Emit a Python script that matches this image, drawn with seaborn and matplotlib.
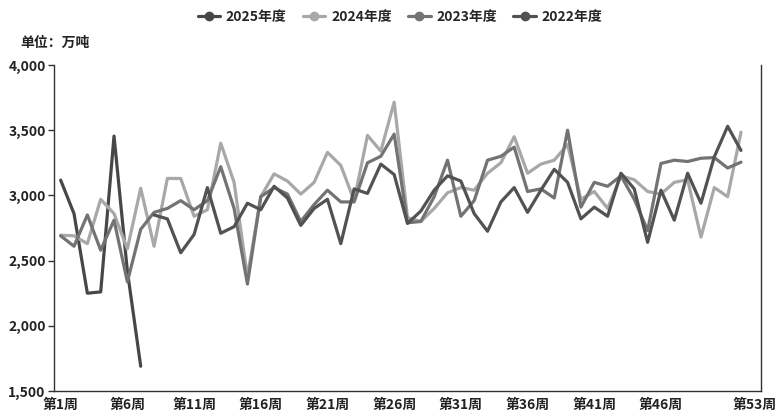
import matplotlib
matplotlib.use("Agg")
import matplotlib.pyplot as plt
import pandas as pd
import seaborn as sns
from matplotlib.lines import Line2D
from matplotlib.ticker import FuncFormatter

# ---- data ----
weeks = [f"第{i}周" for i in range(1, 54)]
series_names = ["2025年度", "2024年度", "2023年度", "2022年度"]
series_start = [1, 1, 1, 8]  # first week with data

y2025 = [3117, 2860, 2250, 2260, 3455, 2420, 1690]

y2024 = [2695, 2690, 2630, 2970, 2860, 2590, 3055, 2610, 3130, 3130,
         2840, 2890, 3400, 3100, 2375, 2990, 3165, 3110, 3010, 3100,
         3330, 3230, 2960, 3460, 3340, 3715, 2830, 2800, 2900, 3020,
         3060, 3040, 3170, 3250, 3450, 3170, 3240, 3270, 3390, 2970,
         3030, 2900, 3150, 3120, 3030, 3010, 3100, 3120, 2680, 3060,
         2990, 3485]

y2023 = [2690, 2610, 2850, 2580, 2810, 2337, 2740, 2870, 2900, 2960,
         2890, 2960, 3220, 2900, 2320, 2990, 3060, 3010, 2800, 2930,
         3040, 2950, 2950, 3250, 3300, 3470, 2790, 2800, 2990, 3270,
         2840, 2960, 3270, 3300, 3370, 3030, 3050, 2980, 3500, 2910,
         3100, 3070, 3150, 2970, 2730, 3245, 3270, 3260, 3285, 3290,
         3210, 3255]

y2022 = [2850, 2820, 2560, 2700, 3060, 2710, 2760, 2940, 2890, 3070,
         2980, 2770, 2900, 2970, 2630, 3050, 3015, 3240, 3160, 2785,
         2880, 3040, 3150, 3110, 2860, 2725, 2950, 3060, 2870, 3040,
         3200, 3100, 2820, 2910, 2840, 3170, 3050, 2640, 3040, 2810,
         3170, 2940, 3296, 3530, 3345]

colors = {"2025年度": "#474747", "2024年度": "#a8a8a8",
          "2023年度": "#737373", "2022年度": "#525252"}

rows = []
for name, vals, start in zip(series_names, [y2025, y2024, y2023, y2022], series_start):
    for i, v in enumerate(vals):
        rows.append({"week": start - 1 + i, "value": v, "series": name})
df = pd.DataFrame(rows)

# ---- style ----
sns.set_theme(style="white")
plt.rcParams["font.family"] = ["Noto Sans CJK SC", "DejaVu Sans"]
plt.rcParams["font.weight"] = "bold"

fig = plt.figure(figsize=(7.83, 4.16), dpi=100)
ax = fig.add_axes([54 / 783, 25 / 416, 707 / 783, 326 / 416])

sns.lineplot(data=df, x="week", y="value", hue="series", hue_order=series_names,
             palette=colors, estimator=None, linewidth=2.3, ax=ax, legend=False)
for ln in ax.lines:
    ln.set_solid_joinstyle("round")
    ln.set_solid_capstyle("round")

# x axis
ax.set_xlim(-0.5, 52.5)
label_idx = list(range(0, 50, 5)) + [52]
ax.set_xticks(label_idx)
ax.set_xticklabels([weeks[i] for i in label_idx], fontsize=10, fontweight="bold", color="#222222")
ax.set_xticks([i - 0.5 for i in range(0, 51, 5)] + [52.5], minor=True)
ax.tick_params(axis="x", which="major", length=0, pad=5)
ax.tick_params(axis="x", which="minor", length=4, width=1, color="#333333", direction="out")

# y axis
ax.set_ylim(1500, 4000)
ax.set_yticks([1500, 2000, 2500, 3000, 3500, 4000])
ax.yaxis.set_major_formatter(FuncFormatter(lambda v, p: f"{v:,.0f}"))
ax.tick_params(axis="y", which="major", length=4, width=1, color="#333333",
               direction="out", labelsize=10, labelcolor="#222222", pad=2, left=True)
for lab in ax.get_yticklabels():
    lab.set_fontweight("bold")

ax.set_xlabel("")
ax.set_ylabel("")
ax.grid(False)
for side in ["left", "bottom", "right"]:
    ax.spines[side].set_visible(True)
    ax.spines[side].set_color("#333333")
    ax.spines[side].set_linewidth(1.0)
ax.spines["top"].set_visible(False)

fig.text(20 / 783, 1 - 43 / 416, "单位：万吨", ha="left", va="center",
         fontsize=10, fontweight="bold", color="#222222")

handles = [Line2D([0], [0], color=colors[n], lw=2.3, marker="o", markersize=6) for n in series_names]
fig.legend(handles, series_names, loc="center", bbox_to_anchor=(400 / 783, 1 - 17 / 416),
           ncol=4, frameon=False, prop={"size": 10, "weight": "bold"},
           handlelength=1.6, handletextpad=0.4, columnspacing=1.2)

fig.savefig("out.png", dpi=100)
